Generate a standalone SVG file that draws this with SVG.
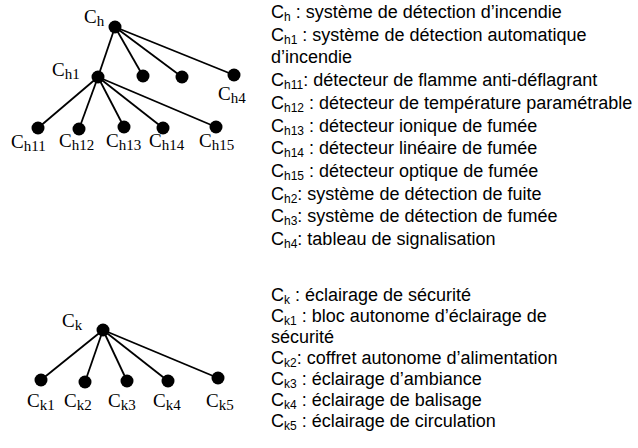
<svg xmlns="http://www.w3.org/2000/svg" width="638" height="448" viewBox="0 0 638 448">
<style>
.e{stroke:#000;stroke-width:1.8;fill:none}
.n{fill:#000}
.t{font-family:"Liberation Serif","Times New Roman",serif;font-size:19px;fill:#000}
.ts{font-size:15px}
.d{font-family:"Liberation Sans",Arial,sans-serif;font-size:18px;fill:#000}
.ds{font-size:12px}
</style>
<rect width="638" height="448" fill="#fff"/>
<g id="connectors">
<line class="e" x1="115" y1="27" x2="98" y2="77"/>
<line class="e" x1="115" y1="27" x2="143" y2="76"/>
<line class="e" x1="115" y1="27" x2="182" y2="77"/>
<line class="e" x1="115" y1="27" x2="234" y2="75"/>
<line class="e" x1="98" y1="77" x2="38" y2="128"/>
<line class="e" x1="98" y1="77" x2="79" y2="129"/>
<line class="e" x1="98" y1="77" x2="124" y2="127"/>
<line class="e" x1="98" y1="77" x2="163" y2="128"/>
<line class="e" x1="98" y1="77" x2="216" y2="127"/>
<line class="e" x1="103" y1="330" x2="41" y2="380"/>
<line class="e" x1="103" y1="330" x2="85" y2="382"/>
<line class="e" x1="103" y1="330" x2="127" y2="381"/>
<line class="e" x1="103" y1="330" x2="168" y2="381"/>
<line class="e" x1="103" y1="330" x2="218" y2="378"/>
</g>
<g id="Ch"><circle class="n" cx="115" cy="27" r="6.5"/><text class="t" x="84" y="23">C<tspan class="ts" dy="3">h</tspan></text></g>
<g id="Ch1"><circle class="n" cx="98" cy="77" r="6.5"/><text class="t" x="52" y="76">C<tspan class="ts" dy="3">h1</tspan></text></g>
<g id="Ch2"><circle class="n" cx="143" cy="76" r="6.5"/></g>
<g id="Ch3"><circle class="n" cx="182" cy="77" r="6.5"/></g>
<g id="Ch4"><circle class="n" cx="234" cy="75" r="6.5"/><text class="t" x="218" y="100">C<tspan class="ts" dy="3">h4</tspan></text></g>
<g id="Ch11"><circle class="n" cx="38" cy="128" r="6.5"/><text class="t" x="11" y="148">C<tspan class="ts" dy="3">h11</tspan></text></g>
<g id="Ch12"><circle class="n" cx="79" cy="129" r="6.5"/><text class="t" x="59" y="147">C<tspan class="ts" dy="3">h12</tspan></text></g>
<g id="Ch13"><circle class="n" cx="124" cy="127" r="6.5"/><text class="t" x="106" y="147">C<tspan class="ts" dy="3">h13</tspan></text></g>
<g id="Ch14"><circle class="n" cx="163" cy="128" r="6.5"/><text class="t" x="149" y="147">C<tspan class="ts" dy="3">h14</tspan></text></g>
<g id="Ch15"><circle class="n" cx="216" cy="127" r="6.5"/><text class="t" x="199" y="147">C<tspan class="ts" dy="3">h15</tspan></text></g>
<g id="Ck"><circle class="n" cx="103" cy="330" r="6.5"/><text class="t" x="62" y="327">C<tspan class="ts" dy="3">k</tspan></text></g>
<g id="Ck1"><circle class="n" cx="41" cy="380" r="6.5"/><text class="t" x="27" y="407">C<tspan class="ts" dy="3">k1</tspan></text></g>
<g id="Ck2"><circle class="n" cx="85" cy="382" r="6.5"/><text class="t" x="64" y="407">C<tspan class="ts" dy="3">k2</tspan></text></g>
<g id="Ck3"><circle class="n" cx="127" cy="381" r="6.5"/><text class="t" x="108" y="407">C<tspan class="ts" dy="3">k3</tspan></text></g>
<g id="Ck4"><circle class="n" cx="168" cy="381" r="6.5"/><text class="t" x="153" y="407">C<tspan class="ts" dy="3">k4</tspan></text></g>
<g id="Ck5"><circle class="n" cx="218" cy="378" r="6.5"/><text class="t" x="206" y="407">C<tspan class="ts" dy="3">k5</tspan></text></g>
<g id="legend-h">
<text class="d" x="271" y="18">C<tspan class="ds" dy="3">h</tspan><tspan dy="-3"> : système de détection d’incendie</tspan></text>
<text class="d" x="271" y="40.7">C<tspan class="ds" dy="3">h1</tspan><tspan dy="-3"> : système de détection automatique</tspan></text>
<text class="d" x="271" y="63.4">d’incendie</text>
<text class="d" x="271" y="86.1">C<tspan class="ds" dy="3">h11</tspan><tspan dy="-3">: détecteur de flamme anti-déflagrant</tspan></text>
<text class="d" x="271" y="108.8">C<tspan class="ds" dy="3">h12</tspan><tspan dy="-3"> : détecteur de température paramétrable</tspan></text>
<text class="d" x="271" y="131.5">C<tspan class="ds" dy="3">h13</tspan><tspan dy="-3"> : détecteur ionique de fumée</tspan></text>
<text class="d" x="271" y="154.2">C<tspan class="ds" dy="3">h14</tspan><tspan dy="-3"> : détecteur linéaire de fumée</tspan></text>
<text class="d" x="271" y="176.9">C<tspan class="ds" dy="3">h15</tspan><tspan dy="-3"> : détecteur optique de fumée</tspan></text>
<text class="d" x="271" y="199.6">C<tspan class="ds" dy="3">h2</tspan><tspan dy="-3">: système de détection de fuite</tspan></text>
<text class="d" x="271" y="222.3">C<tspan class="ds" dy="3">h3</tspan><tspan dy="-3">: système de détection de fumée</tspan></text>
<text class="d" x="271" y="245">C<tspan class="ds" dy="3">h4</tspan><tspan dy="-3">: tableau de signalisation</tspan></text>
</g>
<g id="legend-k">
<text class="d" x="271" y="301">C<tspan class="ds" dy="3">k</tspan><tspan dy="-3"> : éclairage de sécurité</tspan></text>
<text class="d" x="271" y="322">C<tspan class="ds" dy="3">k1</tspan><tspan dy="-3"> : bloc autonome d’éclairage de</tspan></text>
<text class="d" x="271" y="343">sécurité</text>
<text class="d" x="271" y="364">C<tspan class="ds" dy="3">k2</tspan><tspan dy="-3">: coffret autonome d’alimentation</tspan></text>
<text class="d" x="271" y="385">C<tspan class="ds" dy="3">k3</tspan><tspan dy="-3"> : éclairage d’ambiance</tspan></text>
<text class="d" x="271" y="406">C<tspan class="ds" dy="3">k4</tspan><tspan dy="-3"> : éclairage de balisage</tspan></text>
<text class="d" x="271" y="427">C<tspan class="ds" dy="3">k5</tspan><tspan dy="-3"> : éclairage de circulation</tspan></text>
</g>
</svg>
